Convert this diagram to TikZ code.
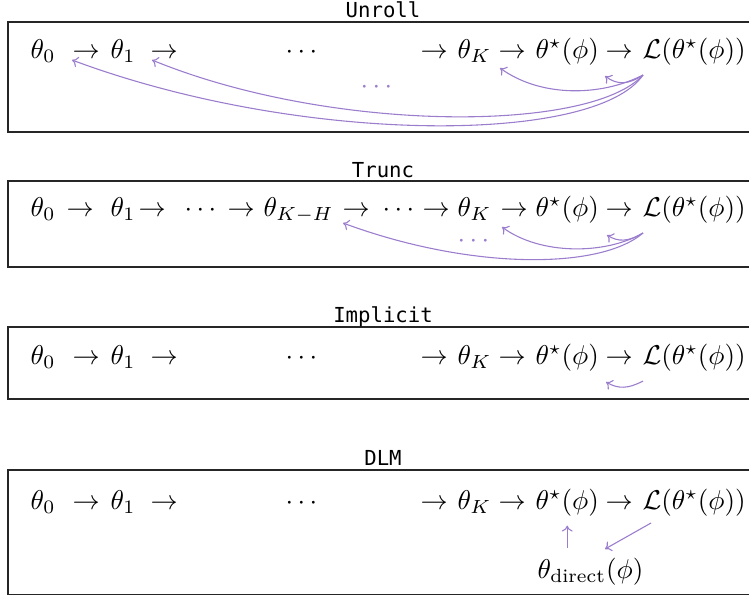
\documentclass[tikz,border=0pt]{standalone}
\usepackage{fontspec}
\newfontfamily\titlefont{DejaVu Sans Mono}
\usetikzlibrary{arrows.meta}
\definecolor{gradc}{RGB}{155,125,205}
\tikzset{
  m/.style={inner sep=0pt, anchor=base west},
  ttl/.style={inner sep=0pt, anchor=base, font=\titlefont\fontsize{7.6}{9}\selectfont},
  panel/.style={draw=black!85, line width=0.45pt},
  gradarrow/.style={draw=gradc, line width=0.4pt, -{To[length=2.2pt,width=4pt]}},
  gdots/.style={inner sep=0pt, anchor=base west, text=gradc},
}
\begin{document}
\begin{tikzpicture}[x=0.368pt,y=-0.368pt]
\useasboundingbox (0,0) rectangle (749,596);

% ---------------- Unroll ----------------
\draw[panel] (8,22) rectangle (760,132);
\node[ttl] (h1) at (383,17) {Unroll};
\node[m] (p1t0) at (30,58) {$\theta_0$};
\node[m] (p1a1) at (72,58) {$\rightarrow$};
\node[m] (p1t1) at (110,58) {$\theta_1$};
\node[m] (p1a2) at (150,58) {$\rightarrow$};
\node[m] (p1d) at (285,58) {$\cdots$};
\node[m] (p1a3) at (420,58) {$\rightarrow$};
\node[m] (p1tK) at (457,58) {$\theta_K$};
\node[m] (p1a4) at (498,58) {$\rightarrow$};
\node[m] (p1ts) at (535,58) {$\theta^\star(\phi)$};
\node[m] (p1a5) at (605,58) {$\rightarrow$};
\node[m] (p1L) at (642,58) {$\mathcal{L}(\theta^\star(\phi))$};
\node[gdots] (p1g) at (360,93) {$\cdots$};
\draw[gradarrow] ([shift={(1,17)}]p1L.base west) .. controls (628,85) and (617,85) .. ([shift={(0,18)}]p1a5.base west);
\draw[gradarrow] ([shift={(1,17)}]p1L.base west) .. controls (600,97) and (540,97) .. ([shift={(2,10)}]p1a4.base west);
\draw[gradarrow] ([shift={(1,17)}]p1L.base west) .. controls (590,133) and (330,133) .. ([shift={(2,2)}]p1a2.base west);
\draw[gradarrow] ([shift={(1,17)}]p1L.base west) .. controls (595,145) and (300,145) .. ([shift={(0,2)}]p1a1.base west);

% ---------------- Trunc ----------------
\draw[panel] (8,181) rectangle (760,267);
\node[ttl] (h2) at (383,177) {Trunc};
\node[m] (p2t0) at (30,216) {$\theta_0$};
\node[m] (p2a1) at (66,216) {$\rightarrow$};
\node[m] (p2t1) at (110,216) {$\theta_1$};
\node[m] (p2a2) at (138,216) {$\rightarrow$};
\node[m] (p2d1) at (184,216) {$\cdots$};
\node[m] (p2a3) at (227,216) {$\rightarrow$};
\node[m] (p2tKH) at (263,216) {$\theta_{K-H}$};
\node[m] (p2a4) at (342,216) {$\rightarrow$};
\node[m] (p2d2) at (382,216) {$\cdots$};
\node[m] (p2a5) at (422,216) {$\rightarrow$};
\node[m] (p2tK) at (457,216) {$\theta_K$};
\node[m] (p2a6) at (500,216) {$\rightarrow$};
\node[m] (p2ts) at (535,216) {$\theta^\star(\phi)$};
\node[m] (p2a7) at (605,216) {$\rightarrow$};
\node[m] (p2L) at (642,216) {$\mathcal{L}(\theta^\star(\phi))$};
\node[gdots] (p2g) at (457,247) {$\cdots$};
\draw[gradarrow] ([shift={(1,17)}]p2L.base west) .. controls (628,242) and (618,242) .. ([shift={(2,19)}]p2a7.base west);
\draw[gradarrow] ([shift={(1,17)}]p2L.base west) .. controls (605,255) and (540,255) .. ([shift={(2,11)}]p2a6.base west);
\draw[gradarrow] ([shift={(1,17)}]p2L.base west) .. controls (600,270) and (470,270) .. ([shift={(1,7)}]p2a4.base west);

% ---------------- Implicit ----------------
\draw[panel] (8,327) rectangle (760,399);
\node[ttl] (h3) at (383,322) {Implicit};
\node[m] (p3t0) at (30,364) {$\theta_0$};
\node[m] (p3a1) at (72,364) {$\rightarrow$};
\node[m] (p3t1) at (110,364) {$\theta_1$};
\node[m] (p3a2) at (150,364) {$\rightarrow$};
\node[m] (p3d) at (285,364) {$\cdots$};
\node[m] (p3a3) at (420,364) {$\rightarrow$};
\node[m] (p3tK) at (457,364) {$\theta_K$};
\node[m] (p3a4) at (498,364) {$\rightarrow$};
\node[m] (p3ts) at (535,364) {$\theta^\star(\phi)$};
\node[m] (p3a5) at (605,364) {$\rightarrow$};
\node[m] (p3L) at (642,364) {$\mathcal{L}(\theta^\star(\phi))$};
\draw[gradarrow] ([shift={(1,17)}]p3L.base west) .. controls (628,389) and (618,389) .. ([shift={(1,18)}]p3a5.base west);

% ---------------- DLM ----------------
\draw[panel] (8,470) rectangle (760,594.5);
\node[ttl] (h4) at (383,465) {DLM};
\node[m] (p4t0) at (30,509) {$\theta_0$};
\node[m] (p4a1) at (72,509) {$\rightarrow$};
\node[m] (p4t1) at (110,509) {$\theta_1$};
\node[m] (p4a2) at (150,509) {$\rightarrow$};
\node[m] (p4d) at (285,509) {$\cdots$};
\node[m] (p4a3) at (420,509) {$\rightarrow$};
\node[m] (p4tK) at (457,509) {$\theta_K$};
\node[m] (p4a4) at (498,509) {$\rightarrow$};
\node[m] (p4ts) at (535,509) {$\theta^\star(\phi)$};
\node[m] (p4a5) at (605,509) {$\rightarrow$};
\node[m] (p4L) at (642,509) {$\mathcal{L}(\theta^\star(\phi))$};
\node[m] (p4dir) at (537,578) {$\theta_{\mathrm{direct}}(\phi)$};
\draw[gradarrow, shorten <=3.5pt, shorten >=3.4pt] (p4ts.south |- p4dir.north) -- (p4ts.south);
\draw[gradarrow] ([shift={(9,14)}]p4L.base west) -- ([shift={(68,-29)}]p4dir.base west);
\end{tikzpicture}
\end{document}
